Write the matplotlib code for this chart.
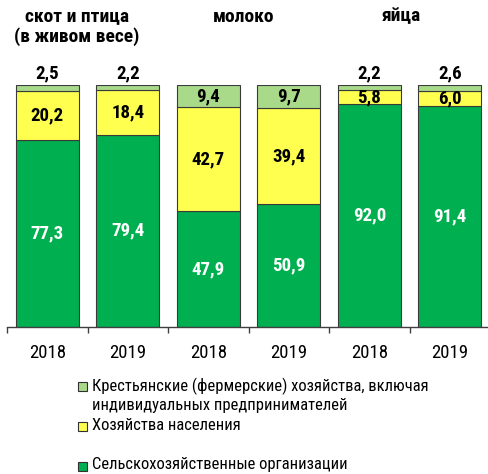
import matplotlib
matplotlib.use('Agg')
import matplotlib.pyplot as plt
from matplotlib.patches import Rectangle
from matplotlib import font_manager
import numpy as np

# ---- данные ----
groups = ['скот и птица\n(в живом весе)', 'молоко', 'яйца']
years = ['2018', '2019', '2018', '2019', '2018', '2019']
selhoz = [77.3, 79.4, 47.9, 50.9, 92.0, 91.4]       # Сельскохозяйственные организации
naselenie = [20.2, 18.4, 42.7, 39.4, 5.8, 6.0]      # Хозяйства населения
fermer = [2.5, 2.2, 9.4, 9.7, 2.2, 2.6]             # Крестьянские (фермерские) хозяйства

legend_labels = ['Крестьянские (фермерские) хозяйства, включая\nиндивидуальных предпринимателей',
                 'Хозяйства населения',
                 'Сельскохозяйственные организации']

c_green = '#00B050'
c_yellow = '#FFFF4F'
c_light = '#A9DA8A'
edge = '#3a3a3a'

# узкий шрифт, похожий на Arial Narrow
names = {f.name for f in font_manager.fontManager.ttflist}
FONT = 'Liberation Sans'
for cand in ['Liberation Sans Narrow', 'Roboto Condensed', 'PT Sans Narrow', 'Fira Sans Condensed']:
    if cand in names:
        FONT = cand
        break
plt.rcParams['font.family'] = [FONT, 'DejaVu Sans']

W, H = 488, 474
fig = plt.figure(figsize=(W / 100, H / 100), dpi=100)

def fx(px):
    return px / W

def fy(py):
    return 1 - py / H

# оси: низ 327 px, верх (100%) 84.7 px, левый край 7 px, шаг 80.5 px
ax = fig.add_axes([fx(7), fy(327), fx(6 * 80.5), (327 - 84.7) / H])
x = np.arange(len(years))
bw = 0.78

ax.bar(x, selhoz, bw, color=c_green, edgecolor=edge, linewidth=0.8)
ax.bar(x, naselenie, bw, bottom=selhoz, color=c_yellow, edgecolor=edge, linewidth=0.8)
bottom2 = np.array(selhoz) + np.array(naselenie)
ax.bar(x, fermer, bw, bottom=bottom2, color=c_light, edgecolor=edge, linewidth=0.8)

def fmt(v):
    return f'{v:.1f}'.replace('.', ',')

LS = 13.6
for i in range(len(years)):
    ax.text(x[i], selhoz[i] / 2, fmt(selhoz[i]), ha='center', va='center',
            color='white', fontsize=LS, fontweight='bold')
    ax.text(x[i], selhoz[i] + naselenie[i] / 2, fmt(naselenie[i]), ha='center', va='center',
            color='black', fontsize=LS, fontweight='bold')
    if fermer[i] < 5:
        ax.text(x[i], 100 + 1.0, fmt(fermer[i]), ha='center', va='bottom',
                color='black', fontsize=LS, fontweight='bold')
    else:
        ax.text(x[i], bottom2[i] + fermer[i] / 2, fmt(fermer[i]), ha='center', va='center',
                color='black', fontsize=LS, fontweight='bold')

ax.set_xlim(-0.5, 5.5)
ax.set_ylim(0, 100)
for s in ['top', 'right', 'left']:
    ax.spines[s].set_visible(False)
ax.spines['bottom'].set_color('#404040')
ax.spines['bottom'].set_linewidth(1.0)
ax.set_yticks([])
ax.set_xticks(np.arange(-0.5, 6.0, 1.0))
ax.set_xticklabels([])
ax.tick_params(axis='x', which='major', direction='out', length=4.5, width=1.0, color='#404040')
ax.set_xticks(x, minor=True)
ax.set_xticklabels(years, minor=True, fontsize=13.5)
ax.tick_params(axis='x', which='minor', length=0, pad=12)

# подписи групп
title_px = [77, 244, 401]
for g, px in zip(groups, title_px):
    fig.text(fx(px), fy(7.5), g, ha='center', va='top', fontsize=14,
             fontweight='bold', linespacing=1.15)

# легенда
leg_colors = [c_light, c_yellow, c_green]
leg_rows = [386.5, 426, 466]
for col, lab, py in zip(leg_colors, legend_labels, leg_rows):
    fig.patches.append(Rectangle((fx(78), fy(py + 4.5)), fx(9), 9 / H,
                                 transform=fig.transFigure, facecolor=col,
                                 edgecolor='#303030', linewidth=0.8))
    fig.text(fx(92), fy(py - 8.5), lab, ha='left', va='top', fontsize=11.9,
             linespacing=1.25)

fig.savefig('out.png', dpi=100)
